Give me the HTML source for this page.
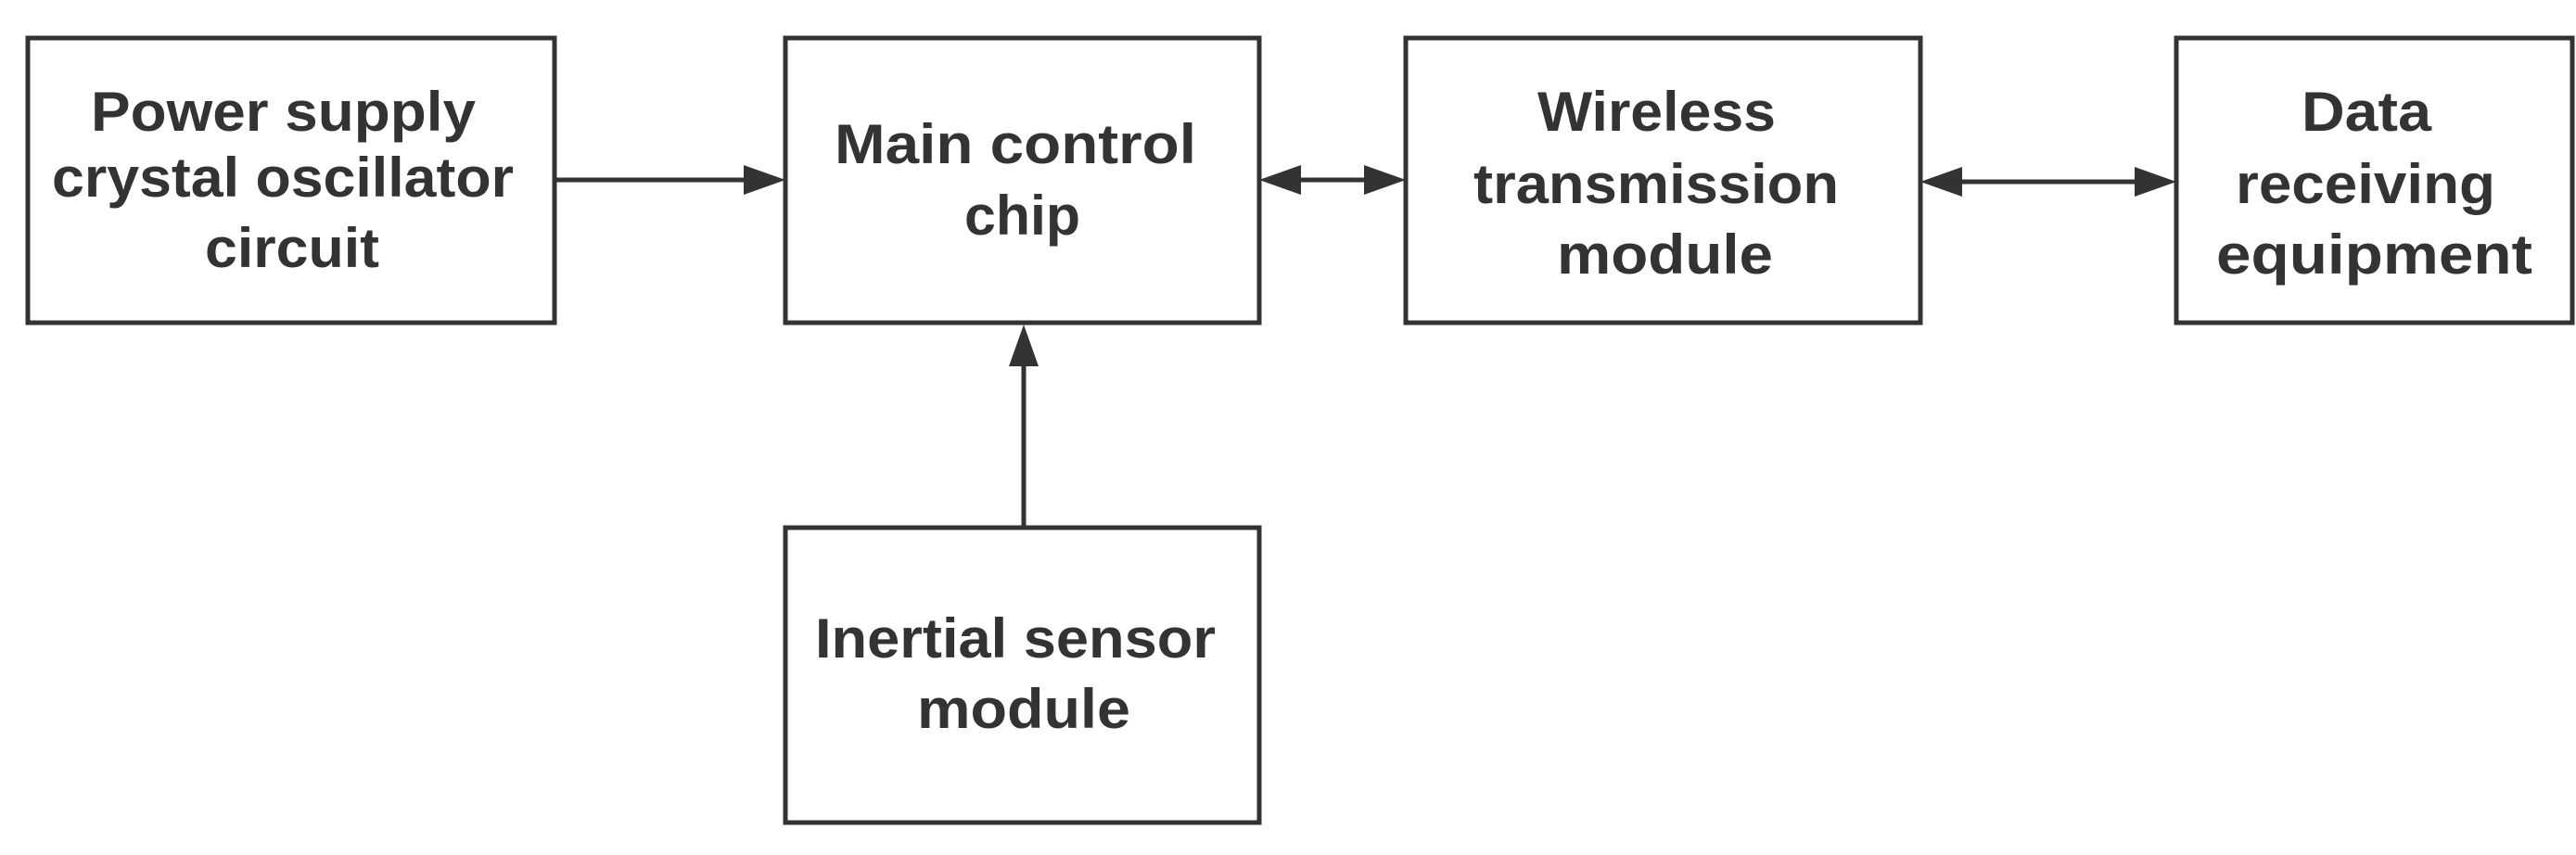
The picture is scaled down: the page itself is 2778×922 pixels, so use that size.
<!DOCTYPE html>
<html><head><meta charset="utf-8"><style>
html,body{margin:0;padding:0;background:#fff;}
svg{display:block;}
text{font-family:"Liberation Sans",sans-serif;font-weight:bold;font-size:60px;fill:#333;}
</style></head><body>
<svg width="2778" height="922" viewBox="0 0 2778 922" xmlns="http://www.w3.org/2000/svg">
<g fill="none" stroke="#333" stroke-width="5">
<rect x="30" y="41" width="568" height="307"/>
<rect x="847" y="41" width="511" height="307"/>
<rect x="847" y="569" width="511" height="318"/>
<rect x="1516" y="41" width="555" height="307"/>
<rect x="2347" y="41" width="427" height="307"/>
<line x1="598" y1="194" x2="805" y2="194"/>
<line x1="1104" y1="569" x2="1104" y2="390"/>
<line x1="1400" y1="194" x2="1474" y2="194"/>
<line x1="2113" y1="196" x2="2305" y2="196"/>
</g>
<g fill="#333">
<polygon points="847,194 802,178 802,210"/>
<polygon points="1104,350 1088,395 1120,395"/>
<polygon points="1358,194 1403,178 1403,210"/>
<polygon points="1516,194 1471,178 1471,210"/>
<polygon points="2071,196 2116,180 2116,212"/>
<polygon points="2347,196 2302,180 2302,212"/>
</g>
<text x="98" y="141" textLength="415" lengthAdjust="spacingAndGlyphs">Power supply</text>
<text x="56" y="212" textLength="498" lengthAdjust="spacingAndGlyphs">crystal oscillator</text>
<text x="221" y="288" textLength="188" lengthAdjust="spacingAndGlyphs">circuit</text>
<text x="900" y="176" textLength="390" lengthAdjust="spacingAndGlyphs">Main control</text>
<text x="1040" y="253" textLength="125" lengthAdjust="spacingAndGlyphs">chip</text>
<text x="879" y="709" textLength="432" lengthAdjust="spacingAndGlyphs">Inertial sensor</text>
<text x="989" y="785" textLength="230" lengthAdjust="spacingAndGlyphs">module</text>
<text x="1658" y="141" textLength="257" lengthAdjust="spacingAndGlyphs">Wireless</text>
<text x="1589" y="219" textLength="394" lengthAdjust="spacingAndGlyphs">transmission</text>
<text x="1679" y="295" textLength="233" lengthAdjust="spacingAndGlyphs">module</text>
<text x="2482" y="141" textLength="140" lengthAdjust="spacingAndGlyphs">Data</text>
<text x="2411" y="219" textLength="280" lengthAdjust="spacingAndGlyphs">receiving</text>
<text x="2390" y="295" textLength="341" lengthAdjust="spacingAndGlyphs">equipment</text>
</svg>
</body></html>
